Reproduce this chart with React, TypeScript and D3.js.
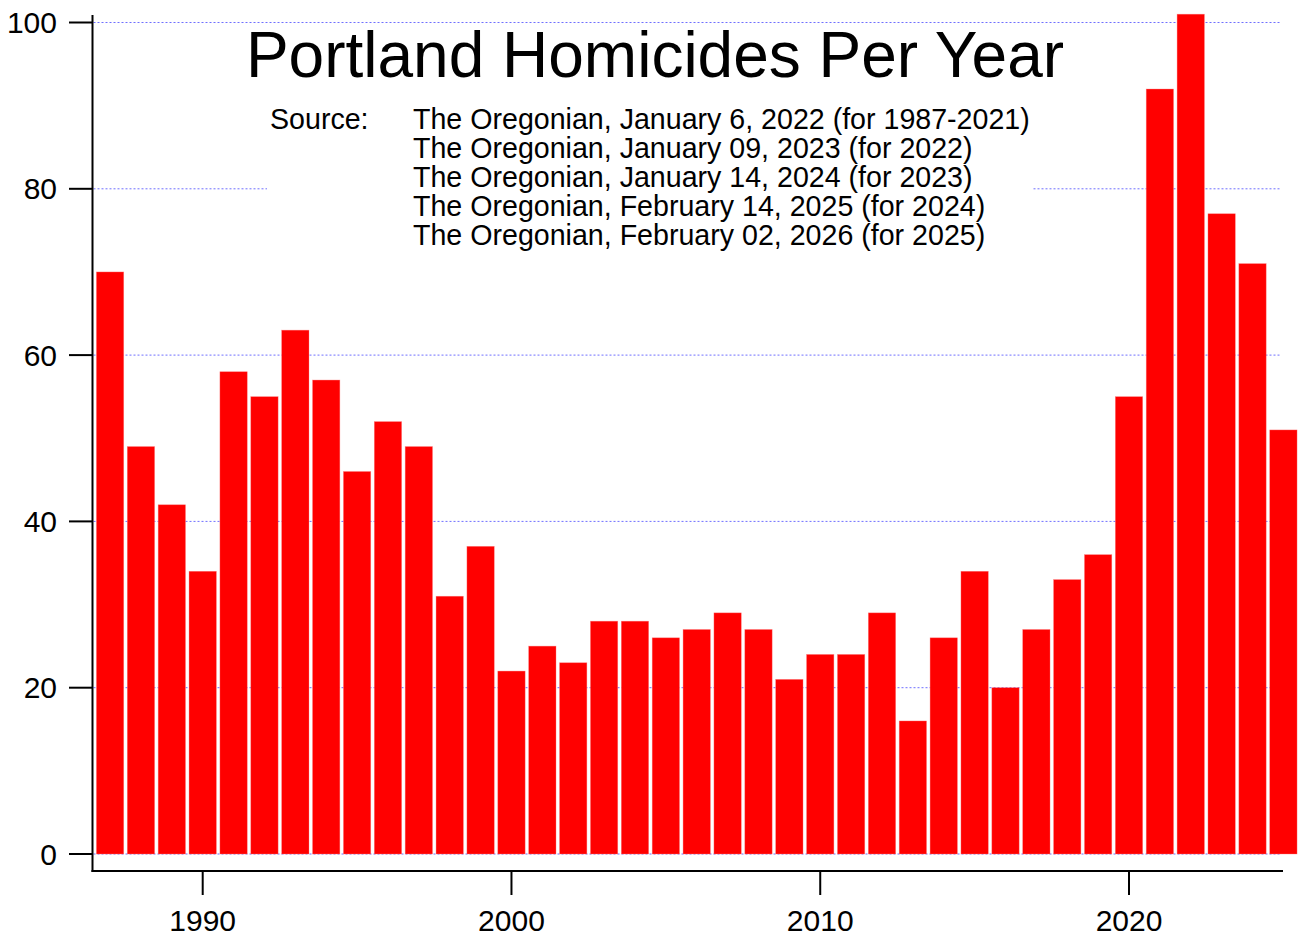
import React, { useRef, useEffect } from "react";
import * as d3 from "d3";

const years = [
  1987, 1988, 1989, 1990, 1991, 1992, 1993, 1994, 1995, 1996, 1997, 1998, 1999,
  2000, 2001, 2002, 2003, 2004, 2005, 2006, 2007, 2008, 2009, 2010, 2011, 2012,
  2013, 2014, 2015, 2016, 2017, 2018, 2019, 2020, 2021, 2022, 2023, 2024, 2025,
];
const homicides = [
  70, 49, 42, 34, 58, 55, 63, 57, 46, 52, 49, 31, 37,
  22, 25, 23, 28, 28, 26, 27, 29, 27, 21, 24, 24, 29,
  16, 26, 34, 20, 27, 33, 36, 55, 92, 101, 77, 71, 51,
];
const yTicks = [0, 20, 40, 60, 80, 100];
const xTicks = [1990, 2000, 2010, 2020];
const sourceLines = [
  "The Oregonian, January 6, 2022 (for 1987-2021)",
  "The Oregonian, January 09, 2023 (for 2022)",
  "The Oregonian, January 14, 2024 (for 2023)",
  "The Oregonian, February 14, 2025 (for 2024)",
  "The Oregonian, February 02, 2026 (for 2025)",
];

const W = 1302;
const H = 940;
const FONT = "'Liberation Sans', Arial, Helvetica, sans-serif";

export default function App() {
  const svgRef = useRef<SVGSVGElement>(null);

  useEffect(() => {
    if (!svgRef.current) return;
    const svg = d3.select(svgRef.current);
    svg.selectAll("*").remove();

    // scales (year centre -> px, count -> px)
    const x = d3.scaleLinear().domain([1990, 2020]).range([202.7, 1129]);
    const y = d3.scaleLinear().domain([0, 100]).range([854, 22.5]);
    const axisLeft = 92.5;
    const axisBottom = 871;
    const xEnd = 1283;
    const barW = (x(1991) - x(1990)) * 0.885;

    // gridlines
    svg
      .append("g")
      .selectAll("line")
      .data(yTicks)
      .join("line")
      .attr("x1", axisLeft + 1)
      .attr("x2", 1280)
      .attr("y1", (d) => y(d))
      .attr("y2", (d) => y(d))
      .attr("stroke", "#6f6fff")
      .attr("stroke-width", 1)
      .attr("stroke-dasharray", "2,2");

    // white box behind the source note
    svg
      .append("rect")
      .attr("x", 267)
      .attr("y", 100)
      .attr("width", 766)
      .attr("height", 152)
      .attr("fill", "#fff");

    // bars
    svg
      .append("g")
      .selectAll("rect")
      .data(years)
      .join("rect")
      .attr("x", (d) => x(d) - barW / 2)
      .attr("width", barW)
      .attr("y", (d, i) => y(homicides[i]))
      .attr("height", (d, i) => y(0) - y(homicides[i]))
      .attr("fill", "#ff0000")
      .attr("stroke", "rgba(255,120,120,0.6)")
      .attr("stroke-width", 0.6);

    // axes
    svg
      .append("line")
      .attr("x1", axisLeft)
      .attr("x2", axisLeft)
      .attr("y1", 15)
      .attr("y2", axisBottom + 1)
      .attr("stroke", "#000")
      .attr("stroke-width", 2);

    svg
      .append("line")
      .attr("x1", axisLeft - 1)
      .attr("x2", xEnd)
      .attr("y1", axisBottom)
      .attr("y2", axisBottom)
      .attr("stroke", "#000")
      .attr("stroke-width", 2);

    const yg = svg.append("g");
    yg.selectAll("line")
      .data(yTicks)
      .join("line")
      .attr("x1", 69)
      .attr("x2", axisLeft)
      .attr("y1", (d) => y(d))
      .attr("y2", (d) => y(d))
      .attr("stroke", "#000")
      .attr("stroke-width", 2);
    yg.selectAll("text")
      .data(yTicks)
      .join("text")
      .attr("x", 57)
      .attr("y", (d) => y(d) + 10.5)
      .attr("text-anchor", "end")
      .style("font-family", FONT)
      .style("font-size", "30px")
      .text((d) => d);

    const xg = svg.append("g");
    xg.selectAll("line")
      .data(xTicks)
      .join("line")
      .attr("x1", (d) => x(d))
      .attr("x2", (d) => x(d))
      .attr("y1", axisBottom)
      .attr("y2", axisBottom + 24)
      .attr("stroke", "#000")
      .attr("stroke-width", 2);
    xg.selectAll("text")
      .data(xTicks)
      .join("text")
      .attr("x", (d) => x(d))
      .attr("y", 931)
      .attr("text-anchor", "middle")
      .style("font-family", FONT)
      .style("font-size", "30px")
      .text((d) => d);

    // title
    svg
      .append("text")
      .attr("x", 655)
      .attr("y", 77)
      .attr("text-anchor", "middle")
      .style("font-family", FONT)
      .style("font-size", "64px")
      .text("Portland Homicides Per Year");

    // source note
    svg
      .append("text")
      .attr("x", 270)
      .attr("y", 129)
      .style("font-family", FONT)
      .style("font-size", "28.6px")
      .text("Source:");

    svg
      .append("g")
      .selectAll("text")
      .data(sourceLines)
      .join("text")
      .attr("x", 413)
      .attr("y", (d, i) => 129 + i * 29)
      .style("font-family", FONT)
      .style("font-size", "28.6px")
      .text((d) => d);
  }, []);

  return (
    <svg
      ref={svgRef}
      width={W}
      height={H}
      viewBox={`0 0 ${W} ${H}`}
      style={{ position: "absolute", left: 0, top: 0, display: "block", background: "#fff" }}
    />
  );
}
